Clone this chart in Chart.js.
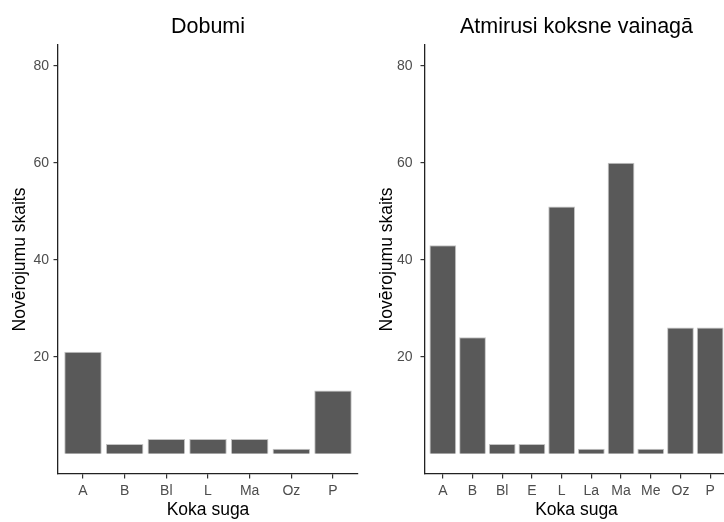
<!DOCTYPE html>
<html lang="lv">
<head>
<meta charset="UTF-8">
<title>Novērojumu skaits pa koku sugām</title>
<style>
  html, body { margin: 0; padding: 0; background: #fff; overflow: hidden; }
  .wrap { position: relative; width: 724px; height: 522px; overflow: hidden; }
  .panel { position: absolute; top: 0; height: 522px; }
  #pa-kreisi { left: 0; width: 362px; }
  #pa-labi { left: 362px; width: 366px; }
</style>
</head>
<body>
<div class="wrap">
  <div class="panel" id="pa-kreisi"><canvas id="grafiksDobumi" width="362" height="522"></canvas></div>
  <div class="panel" id="pa-labi"><canvas id="grafiksVainags" width="366" height="522"></canvas></div>
</div>
<script src="https://cdn.jsdelivr.net/npm/chart.js"></script>
<script>
// koku sugas un novērojumu skaits
var sugasDobumi = ['A', 'B', 'Bl', 'L', 'Ma', 'Oz', 'P'];
var skaitsDobumi = [21, 2, 3, 3, 3, 1, 13];

var sugasVainags = ['A', 'B', 'Bl', 'E', 'L', 'La', 'Ma', 'Me', 'Oz', 'P'];
var skaitsVainags = [43, 24, 2, 2, 51, 1, 60, 1, 26, 26];

var yTicks = [20, 40, 60, 80];

Chart.defaults.font.family = "'Liberation Sans', Arial, sans-serif";
Chart.defaults.color = '#4d4d4d';

function criarGrafico(id, virsraksts, sugas, skaits, yPlatums, yNosaukumaAtstarpe, yTickAtstarpe) {
    var ctx = document.getElementById(id);
    var punkti = sugas.map(function (s, i) { return { x: i, y: skaits[i] }; });

    new Chart(ctx, {
        type: 'bar',
        data: {
            datasets: [{
                data: punkti,
                backgroundColor: '#595959',
                borderColor: '#c4c4c4',
                borderWidth: 1,
                categoryPercentage: 1,
                barPercentage: 0.9
            }]
        },
        options: {
            responsive: false,
            animation: false,
            devicePixelRatio: 1,
            layout: { padding: { left: 0, right: id === 'grafiksDobumi' ? 4 : 0, top: 0, bottom: 0 } },
            plugins: {
                legend: { display: false },
                tooltip: { enabled: false },
                title: {
                    display: true,
                    text: virsraksts,
                    fullSize: false,
                    color: '#000',
                    font: { size: 21.5, weight: 'normal' },
                    padding: { top: 14.6, bottom: 4.6 }
                }
            },
            scales: {
                x: {
                    type: 'linear',
                    offset: false,
                    min: -0.6,
                    max: sugas.length - 0.4,
                    afterBuildTicks: function (scale) {
                        scale.ticks = sugas.map(function (s, i) { return { value: i }; });
                    },
                    afterFit: function (scale) { scale.height = 48; },
                    ticks: {
                        autoSkip: false,
                        maxRotation: 0,
                        padding: 4,
                        color: '#4d4d4d',
                        font: { size: 14 },
                        callback: function (v) { return sugas[v]; }
                    },
                    grid: { offset: false, drawOnChartArea: false, drawTicks: true, tickLength: 4.5, color: '#333', lineWidth: 1.2 },
                    border: { display: true, color: '#222', width: 1.3 },
                    title: {
                        display: true,
                        text: 'Koka suga',
                        color: '#000',
                        font: { size: 17.5 },
                        padding: { top: 0, bottom: 1.1 }
                    }
                },
                y: {
                    min: -4.2,
                    max: 84.3,
                    afterBuildTicks: function (scale) {
                        scale.ticks = yTicks.map(function (v) { return { value: v }; });
                    },
                    afterFit: function (scale) { scale.width = yPlatums; },
                    ticks: {
                        padding: yTickAtstarpe,
                        color: '#4d4d4d',
                        font: { size: 14 }
                    },
                    grid: { drawOnChartArea: false, drawTicks: true, tickLength: 4.5, color: '#333', lineWidth: 1.2 },
                    border: { display: true, color: '#222', width: 1.3 },
                    title: {
                        display: true,
                        text: 'Novērojumu skaits',
                        color: '#000',
                        font: { size: 17.5 },
                        padding: { top: yNosaukumaAtstarpe, bottom: 0 }
                    }
                }
            }
        }
    });
}

criarGrafico('grafiksDobumi', 'Dobumi', sugasDobumi, skaitsDobumi, 58, 10.1, 4.5);
criarGrafico('grafiksVainags', 'Atmirusi koksne vainagā', sugasVainags, skaitsVainags, 63, 14.5, 8);
</script>
</body>
</html>
